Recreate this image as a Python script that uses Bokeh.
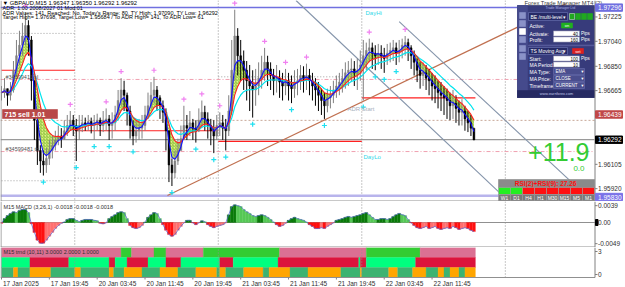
import numpy as np
from bokeh.plotting import figure
from bokeh.layouts import column
from bokeh.models import Range1d
from bokeh.core.properties import value
from bokeh.embed import file_html
from bokeh.resources import INLINE

FONT = "Liberation Sans"

# ---------------- data ----------------
bar_step = 2  # one stored candle = two M15 bars
close = [
    1.9665, 1.9668, 1.9663, 1.9667, 1.9682, 1.9693, 1.9701, 1.9708, 1.9716, 1.9705,
    1.9674, 1.9644, 1.9621, 1.9613, 1.9610, 1.9615, 1.9621, 1.9625, 1.9629, 1.9632,
    1.9630, 1.9636, 1.9640, 1.9644, 1.9640, 1.9636, 1.9640, 1.9642, 1.9641, 1.9643,
    1.9640, 1.9642, 1.9644, 1.9640, 1.9644, 1.9645, 1.9640, 1.9642, 1.9648, 1.9659,
    1.9667, 1.9663, 1.9651, 1.9640, 1.9632, 1.9636, 1.9638, 1.9640, 1.9648, 1.9655,
    1.9663, 1.9667, 1.9661, 1.9655, 1.9650, 1.9636, 1.9610, 1.9604, 1.9613, 1.9621,
    1.9630, 1.9640, 1.9638, 1.9642, 1.9638, 1.9636, 1.9644, 1.9650, 1.9645, 1.9640,
    1.9636, 1.9632, 1.9640, 1.9642, 1.9638, 1.9636, 1.9651, 1.9682, 1.9708, 1.9693,
    1.9689, 1.9682, 1.9674, 1.9670, 1.9667, 1.9670, 1.9676, 1.9682, 1.9688, 1.9683,
    1.9678, 1.9674, 1.9676, 1.9673, 1.9670, 1.9674, 1.9670, 1.9668, 1.9673, 1.9674,
    1.9678, 1.9676, 1.9678, 1.9674, 1.9670, 1.9667, 1.9663, 1.9659, 1.9655, 1.9661,
    1.9663, 1.9667, 1.9670, 1.9673, 1.9676, 1.9680, 1.9682, 1.9683, 1.9680, 1.9682,
    1.9686, 1.9693, 1.9697, 1.9699, 1.9695, 1.9693, 1.9695, 1.9693, 1.9691, 1.9695,
    1.9697, 1.9699, 1.9695, 1.9697, 1.9701, 1.9703, 1.9699, 1.9693, 1.9688, 1.9682,
    1.9678, 1.9680, 1.9676, 1.9674, 1.9670, 1.9668, 1.9665, 1.9663, 1.9661, 1.9659,
    1.9655, 1.9657, 1.9653, 1.9650, 1.9651, 1.9645, 1.9642, 1.9638, 1.9629,
]
high = [
    1.9670, 1.9676, 1.9668, 1.9673, 1.9689, 1.9705, 1.9712, 1.9718, 1.9726, 1.9720,
    1.9708, 1.9674, 1.9648, 1.9625, 1.9621, 1.9623, 1.9629, 1.9632, 1.9636, 1.9640,
    1.9638, 1.9644, 1.9648, 1.9651, 1.9648, 1.9645, 1.9648, 1.9648, 1.9646, 1.9648,
    1.9646, 1.9648, 1.9649, 1.9646, 1.9651, 1.9653, 1.9648, 1.9650, 1.9655, 1.9667,
    1.9676, 1.9674, 1.9665, 1.9655, 1.9644, 1.9645, 1.9645, 1.9648, 1.9655, 1.9665,
    1.9673, 1.9677, 1.9670, 1.9663, 1.9659, 1.9653, 1.9636, 1.9615, 1.9621, 1.9630,
    1.9640, 1.9655, 1.9648, 1.9651, 1.9645, 1.9644, 1.9653, 1.9659, 1.9655, 1.9650,
    1.9645, 1.9644, 1.9648, 1.9650, 1.9648, 1.9645, 1.9663, 1.9705, 1.9728, 1.9714,
    1.9705, 1.9697, 1.9689, 1.9686, 1.9682, 1.9683, 1.9688, 1.9693, 1.9699, 1.9693,
    1.9688, 1.9683, 1.9686, 1.9682, 1.9680, 1.9683, 1.9680, 1.9678, 1.9682, 1.9683,
    1.9686, 1.9685, 1.9687, 1.9683, 1.9680, 1.9676, 1.9673, 1.9668, 1.9665, 1.9668,
    1.9670, 1.9674, 1.9678, 1.9680, 1.9683, 1.9688, 1.9689, 1.9691, 1.9689, 1.9691,
    1.9697, 1.9705, 1.9703, 1.9706, 1.9703, 1.9701, 1.9702, 1.9701, 1.9699, 1.9702,
    1.9703, 1.9705, 1.9703, 1.9705, 1.9706, 1.9708, 1.9706, 1.9701, 1.9697, 1.9691,
    1.9688, 1.9688, 1.9686, 1.9683, 1.9680, 1.9678, 1.9674, 1.9673, 1.9670, 1.9668,
    1.9665, 1.9667, 1.9663, 1.9659, 1.9660, 1.9655, 1.9651, 1.9648, 1.9635,
]
low = [
    1.9659, 1.9661, 1.9655, 1.9659, 1.9665, 1.9678, 1.9686, 1.9693, 1.9701, 1.9693,
    1.9659, 1.9629, 1.9610, 1.9604, 1.9602, 1.9604, 1.9610, 1.9615, 1.9621, 1.9625,
    1.9623, 1.9629, 1.9632, 1.9636, 1.9632, 1.9613, 1.9629, 1.9635, 1.9636, 1.9636,
    1.9634, 1.9629, 1.9636, 1.9632, 1.9635, 1.9636, 1.9629, 1.9630, 1.9636, 1.9644,
    1.9655, 1.9651, 1.9640, 1.9630, 1.9625, 1.9627, 1.9629, 1.9630, 1.9636, 1.9645,
    1.9653, 1.9657, 1.9651, 1.9645, 1.9642, 1.9621, 1.9597, 1.9594, 1.9600, 1.9610,
    1.9621, 1.9629, 1.9629, 1.9632, 1.9629, 1.9627, 1.9635, 1.9638, 1.9636, 1.9630,
    1.9625, 1.9619, 1.9629, 1.9632, 1.9629, 1.9621, 1.9632, 1.9648, 1.9674, 1.9678,
    1.9674, 1.9667, 1.9659, 1.9651, 1.9646, 1.9655, 1.9663, 1.9668, 1.9674, 1.9670,
    1.9667, 1.9663, 1.9665, 1.9661, 1.9659, 1.9663, 1.9659, 1.9657, 1.9661, 1.9663,
    1.9667, 1.9665, 1.9667, 1.9663, 1.9659, 1.9655, 1.9651, 1.9648, 1.9645, 1.9650,
    1.9653, 1.9657, 1.9661, 1.9663, 1.9665, 1.9668, 1.9670, 1.9673, 1.9670, 1.9667,
    1.9674, 1.9659, 1.9682, 1.9688, 1.9683, 1.9682, 1.9686, 1.9683, 1.9680, 1.9686,
    1.9688, 1.9689, 1.9686, 1.9688, 1.9691, 1.9693, 1.9689, 1.9683, 1.9678, 1.9673,
    1.9668, 1.9670, 1.9667, 1.9663, 1.9659, 1.9657, 1.9653, 1.9651, 1.9648, 1.9645,
    1.9644, 1.9645, 1.9642, 1.9640, 1.9640, 1.9636, 1.9635, 1.9632, 1.9629,
]
macd_hist = [
    -0.0002, 0.0009, 0.0016, 0.0021, 0.0025, 0.0023, 0.0028, 0.0030, 0.0030, 0.0023,
    -0.0003, -0.0023, -0.0041, -0.0048, -0.0048, -0.0041, -0.0032, -0.0023, -0.0014, -0.0007,
    -0.0002, 0.0001, 0.0007, 0.0009, 0.0009, 0.0005, 0.0002, 0.0005, 0.0007, 0.0007,
    0.0007, 0.0005, 0.0004, -0.0002, -0.0003, -0.0001, 0.0009, 0.0014, 0.0018, 0.0023,
    0.0025, 0.0023, 0.0009, -0.0007, -0.0012, -0.0014, -0.0012, -0.0007, 0.0001, 0.0012,
    0.0018, 0.0023, 0.0021, 0.0009, -0.0005, -0.0018, -0.0028, -0.0032, -0.0028, -0.0018,
    -0.0009, -0.0001, 0.0005, 0.0005, -0.0001, -0.0005, -0.0001, 0.0004, 0.0002, -0.0005,
    -0.0009, -0.0012, -0.0009, -0.0007, -0.0005, -0.0001, 0.0018, 0.0037, 0.0041, 0.0039,
    0.0037, 0.0030, 0.0025, 0.0021, 0.0016, 0.0014, 0.0016, 0.0018, 0.0016, 0.0012,
    0.0007, 0.0001, -0.0005, -0.0009, -0.0007, -0.0002, 0.0005, 0.0009, 0.0012, 0.0009,
    0.0007, 0.0005, 0.0001, -0.0005, -0.0009, -0.0014, -0.0014, -0.0012, -0.0014, -0.0009,
    -0.0005, -0.0001, 0.0005, 0.0007, 0.0009, 0.0012, 0.0014, 0.0012, 0.0014, 0.0016,
    0.0018, 0.0021, 0.0023, 0.0018, 0.0012, 0.0007, 0.0007, 0.0009, 0.0009, 0.0007,
    0.0009, 0.0014, 0.0018, 0.0021, 0.0018, 0.0016, 0.0007, -0.0001, -0.0007, -0.0012,
    -0.0014, -0.0012, -0.0009, -0.0014, -0.0012, -0.0009, -0.0014, -0.0016, -0.0014, -0.0012,
    -0.0014, -0.0009, -0.0012, -0.0016, -0.0014, -0.0012, -0.0014, -0.0018, -0.0021,
]

# trend indicator rows: bar boundaries and state of each block
trend_row1_edges = [0, 80, 87, 102, 110, 135, 186, 244, 280, 317]
trend_row1_state = ["dn", "up", "dn", "up", "dn", "up", "dn", "up", "dn"]
trend_row2_edges = [0, 19, 45, 72, 76, 84, 98, 110, 120, 146, 155, 185, 239, 240, 244, 277, 317]
trend_row2_state = ["up", "dn"] * 8
trend_row3_edges = [0, 8, 11, 19, 33, 49, 53, 72, 75, 82, 94, 106, 118, 130, 144, 146, 150, 162,
                    175, 179, 193, 205, 227, 240, 241, 259, 265, 275, 284, 292, 296, 300, 306, 310, 317]
trend_row3_state = ["up", "dn"] * 17

time_ticks = [0, 32, 64, 96, 128, 160, 192, 224, 256, 288]
time_labels = ["17 Jan 2025", "17 Jan 19:45", "20 Jan 03:45", "20 Jan 11:45", "20 Jan 19:45",
               "21 Jan 03:45", "21 Jan 11:45", "21 Jan 19:45", "22 Jan 03:45", "22 Jan 11:45"]
day_breaks = [49, 145, 241, 337]
price_ticks = [1.97225, 1.97040, 1.96850, 1.96665, 1.96105, 1.95920]
macd_ticks = [0.0039, 0.0, -0.0049]
macd_tick_labels = ["0.0039", "0.00", "-0.0049"]
trend_ticks = [2.6, 0.3]
trend_tick_labels = ["3", "0"]

adr_high = 1.97296
adr_low_line = 1.95866
adr_low_text = "1.95830"
order_open = 1.96439
order_sl = 1.96750
order_tp = 1.96202
bid = 1.96292
day_open_lines = [(0, 49, 1.9682), (49, 145, 1.9636), (145, 241, 1.9628), (241, 317, 1.9661)]
day_range_lines = [(0, 49, 1.9710), (0, 49, 1.9598), (49, 145, 1.9600), (145, 241, 1.9677)]
trend_line = [(111, 1.95868), (378, 1.97327)]
channel_a = [(197, 1.9735), (334, 1.9588)]
channel_b = [(266, 1.9719), (386, 1.9592)]
tf_names = ["W1", "D1", "H4", "H1", "M30", "M15", "M5", "M1"]
tf_state = ["up", "up", "dn", "dn", "dn", "dn", "dn", "dn"]
rsi_value = 27.26
profit_pips = "+11.9"

# ---------------- layout helpers (pixel -> data for decorations) ----------------
def X(px):
    return (px - 1.0) / 1.495

def Y(py):
    return 1.9735 - 0.000076 * py

MACD_PER_PX = 0.0002316
def MY(py):  # MACD panel, py in page pixels
    return (222 - py) * MACD_PER_PX

def TY(py):  # trend panel, py in page pixels
    return (277 - py) / 10.0

n = len(close)
bars = [bar_step * i for i in range(n)]
opens = [close[0]] + close[:-1]

def ema(v, span):
    a = 2.0 / (span + 1)
    out = [v[0]]
    for x in v[1:]:
        out.append(out[-1] + a * (x - out[-1]))
    return out

fast = ema(close, 3)
slow = ema(close, 8)
slower = ema(close, 14)

xr = Range1d(X(0), X(625))
common = dict(output_backend="svg", toolbar_location=None, frame_width=625,
              min_border_left=0, min_border_right=0, min_border_top=0, min_border_bottom=0,
              x_axis_location=None, y_axis_location=None, x_range=xr)

def style(fig):
    fig.outline_line_color = None
    fig.grid.visible = False
    fig.background_fill_color = "white"
    fig.border_fill_color = "white"

def txt(fig, x, y, s, size="6px", color="#202020", align="left", font=FONT, style_="normal", baseline="middle"):
    xs = x if isinstance(x, list) else [x]
    ys = y if isinstance(y, list) else [y]
    ss = s if isinstance(s, list) else [s]
    fig.text(x=xs, y=ys, text=ss, text_font=value(font), text_font_size=size, text_color=color,
             text_align=align, text_baseline=baseline, text_font_style=style_)

def hline(fig, x0, x1, yv, color, width=1, dash="solid"):
    fig.segment(x0=[x0], x1=[x1], y0=[yv], y1=[yv], line_color=color, line_width=width, line_dash=dash)

def vline(fig, xv, y0, y1, color, width=1, dash="solid"):
    fig.segment(x0=[xv], x1=[xv], y0=[y0], y1=[y1], line_color=color, line_width=width, line_dash=dash)

def right_axis(fig, ticks, labels, ytop, ybot):
    vline(fig, X(594.5), ytop, ybot, "#808080")
    fig.segment(x0=[X(594.5)] * len(ticks), x1=[X(597)] * len(ticks), y0=ticks, y1=ticks, line_color="#808080")
    txt(fig, [X(597.5)] * len(ticks), ticks, labels, size="6.5px", color="#303030")

# ---------------- main price panel ----------------
p = figure(frame_height=201, y_range=Range1d(Y(201), Y(0)), **common)
style(p)

def box(fig, x0, x1, y0, y1, fill, line=None, lw=0.6, ymap=Y):
    fig.quad(left=[X(x0)], right=[X(x1)], top=[ymap(y0)], bottom=[ymap(y1)], fill_color=fill,
             line_color=line if line else fill, line_width=lw)

for d in day_breaks:
    vline(p, d, Y(0), Y(201), "#909090", dash="1 2")

# horizontal levels
hline(p, X(0), X(594), adr_high, "#7070e0", 1.5)
hline(p, X(0), X(594), adr_low_line, "#b8b4ec", 2.5)
hline(p, X(0), X(594), order_sl, "#f0a0b0", 1, "4 2 1 2")
hline(p, X(0), X(594), order_tp, "#f0a0b0", 1, "4 2 1 2")
hline(p, X(0), X(594), order_open, "#c8a898", 1, "2 2")
hline(p, X(0), X(594), bid, "#808080", 1)
for a, b, lv in day_range_lines:
    hline(p, a, b, lv, "#a0a0a0", 1, "1 2")
for a, b, lv in day_open_lines:
    hline(p, a, b, lv, "#ff2020", 1.2)

# drawn lines
p.line([q[0] for q in trend_line], [q[1] for q in trend_line], line_color="#c07050", line_width=1.2)
p.line([q[0] for q in channel_a], [q[1] for q in channel_a], line_color="#8494aa", line_width=1.1)
p.line([q[0] for q in channel_b], [q[1] for q in channel_b], line_color="#8494aa", line_width=1.1)

# ribbon and moving averages
p.varea(x=bars, y1=fast, y2=slow, fill_color="#dcef7a", fill_alpha=0.9,
        hatch_pattern="right_diagonal_line", hatch_color="#7ab828", hatch_scale=3, hatch_weight=0.8)

col = ["#808080" if c >= o else "#000000" for c, o in zip(close, opens)]
p.segment(x0=bars, x1=bars, y0=low, y1=high, line_color=col, line_width=1)
p.vbar(x=bars, top=[max(o, c) for o, c in zip(opens, close)], bottom=[min(o, c) for o, c in zip(opens, close)],
       width=1.2, fill_color=col, line_color=col, line_width=0.5)

p.line(bars, slower, line_color="#00e5ee", line_width=1.2)
p.line(bars, slow, line_color="#ff2020", line_width=1.1)
p.line(bars, fast, line_color="#1010ff", line_width=1.1)

fu_x, fu_y, fd_x, fd_y = [], [], [], []
for i in range(2, n - 2):
    if high[i] > max(high[i - 2], high[i - 1], high[i + 1], high[i + 2]):
        fu_x.append(bars[i]); fu_y.append(high[i] + 0.0005)
    if low[i] < min(low[i - 2], low[i - 1], low[i + 1], low[i + 2]):
        fd_x.append(bars[i]); fd_y.append(low[i] - 0.0005)
p.scatter(fu_x, fu_y, marker="cross", size=5, line_color="#f080f0", line_width=1.2)
p.scatter(fd_x, fd_y, marker="cross", size=5, line_color="#20e0f0", line_width=1.2)

# header texts
txt(p, X(2), Y(2.5), "\u25bc GBPAUD,M15  1.96347 1.96350 1.96292 1.96292", size="5.8px", color="#000000")
txt(p, X(2), Y(7), "ADR: 1.00 2008/2027 01 Mod:01", size="5.5px", color="#000000")
txt(p, X(2), Y(12), "ADR Values: 141, Reached: No, Today's Range: 80, TY High: 1.97090, TY Low: 1.96292",
    size="5.5px", color="#000000")
txt(p, X(2), Y(16.5), "Target High= 1.97698, Target Low= 1.95684 / To ADR High= 141, To ADR Low= 61",
    size="5.5px", color="#000000")

# order labels
box(p, 2, 57, 109, 118, "#b84848")
txt(p, X(4), Y(113.5), "715 sell 1.01", size="7px", color="#ffffff", style_="bold")
txt(p, X(5), Y(76), "#34599411 sl", size="5.5px", color="#505050")
txt(p, X(5), Y(148), "#34599481 tp", size="5.5px", color="#505050")
txt(p, X(365), Y(12), "DayHi", size="6px", color="#30d8e8")
txt(p, X(363), Y(156), "DayLo", size="6px", color="#30d8e8")
txt(p, X(347), Y(108), "ADR Start", size="6px", color="#a8b0bc")

# profit
txt(p, X(589), Y(151), profit_pips, size="25px", color="#33cc33", align="right")
txt(p, X(584), Y(168), "0.0", size="8px", color="#33cc33", align="right")

# RSI / timeframe box
box(p, 498, 594, 179, 187, "#8a8a8a")
txt(p, X(546), Y(183), "RSI(2)+RSI(9):  %.2f" % rsi_value, size="6.5px", color="#ff1010", align="center", style_="bold")
cw = (594 - 498) / len(tf_names)
for k, (nm, st) in enumerate(zip(tf_names, tf_state)):
    x0 = 498 + k * cw
    box(p, x0, x0 + cw, 187, 194, "#22ee22" if st == "up" else "#ff1010", line="#9a9a9a", lw=0.6)
    box(p, x0, x0 + cw, 194, 200.5, "#7a7a7a", line="#9a9a9a", lw=0.6)
    txt(p, X(x0 + cw / 2), Y(197.3), nm, size="5px", color="#ffffff", align="center")

# trade manager panel
txt(p, X(524), Y(2.5), "Forex Trade Manager MT4 (2)", size="5.8px", color="#404040")
box(p, 517, 594, 5, 97, "#373b7b", line="#20245a")
box(p, 517, 527, 5, 97, "#454a8c")
for iy in [15, 23, 31, 39, 48, 56]:
    box(p, 519, 525, iy - 3, iy + 3, "#ffffff" if iy == 31 else "#8a92c8")
txt(p, X(545), Y(7), "Trade Manager Ltd", size="3.5px", color="#b0b4e0")
box(p, 528, 567, 12, 20, "#262a66", line="#7078b8")
txt(p, X(530), Y(16), "BE /multi-level", size="5px", color="#ffffff")
txt(p, X(565), Y(16), "\u25be", size="5px", color="#ffffff", align="right", font="DejaVu Sans")
for k in range(4):
    box(p, 569 + k * 6, 574 + k * 6, 13, 19, "#20a820", line="#c0e0c0" if k == 0 else "#20a820")
panel_rows = [("Active:", 25), ("Activate:", 33), ("Profit:", 39), ("Start:", 58), ("MA Period:", 64),
              ("MA Type:", 71), ("MA Price:", 78), ("Timeframe:", 85)]
for s, yy in panel_rows:
    txt(p, X(529), Y(yy), s, size="5px", color="#ffffff")
box(p, 561, 572, 22.5, 27.5, "#20b020")
txt(p, X(566.5), Y(25), "on", size="4px", color="#ffffff", align="center")
for s, yy, pips in [("40", 33, True), ("160", 39, True), ("100", 58, True), ("10", 64, False)]:
    box(p, 553, 579, yy - 2.6, yy + 2.6, "#ffffff", line="#9090b0")
    txt(p, X(577.5), Y(yy), s, size="4.5px", color="#000000", align="right")
    if pips:
        txt(p, X(580.5), Y(yy), "Pips", size="4.5px", color="#ffffff")
box(p, 528, 594, 44.5, 45.3, "#5a5e9e")
box(p, 528, 567, 47, 54, "#262a66", line="#7078b8")
txt(p, X(530), Y(50.5), "TS Moving Avg", size="5px", color="#ffffff")
txt(p, X(565), Y(50.5), "\u25be", size="5px", color="#ffffff", align="right", font="DejaVu Sans")
box(p, 572, 583, 48, 53, "#dd2020")
txt(p, X(577.5), Y(50.5), "set", size="4px", color="#ffffff", align="center")
for s, yy in [("EMA", 71), ("CLOSE", 78), ("CURRENT", 85)]:
    box(p, 553, 584, yy - 3, yy + 3, "#4a4e8e", line="#6a70b0")
    txt(p, X(555), Y(yy), s, size="4.5px", color="#ffffff")
    txt(p, X(583), Y(yy), "\u25be", size="4.5px", color="#ffffff", align="right", font="DejaVu Sans")
box(p, 517, 594, 90, 97, "#262a62")
txt(p, X(556), Y(93.5), "www.earnforex.com", size="3.8px", color="#c0c4e8", align="center")

# borders + right price axis with highlighted labels
vline(p, X(0.5), Y(0), Y(201), "#909090")
hline(p, X(0), X(594.5), Y(200.5), "#909090")
right_axis(p, price_ticks, ["%.5f" % t for t in price_ticks], Y(0), Y(201))

def hl_label(fig, yv, s, bg):
    fig.quad(left=[X(595)], right=[X(622)], top=[yv + 0.00028], bottom=[yv - 0.00028],
             fill_color=bg, line_color=bg)
    txt(fig, X(597.5), yv, s, size="6.5px", color="#ffffff")

hl_label(p, adr_high, "1.97296", "#7070e0")
hl_label(p, Y(114), "1.96439", "#c04848")
hl_label(p, bid, "1.96292", "#000000")
hl_label(p, Y(196.5), adr_low_text, "#7a72e8")

# ---------------- MACD panel (page y 201..247) ----------------
p2 = figure(frame_height=46, y_range=Range1d(MY(247), MY(201)), **common)
style(p2)
for d in day_breaks:
    vline(p2, d, MY(201), MY(246), "#909090", dash="1 2")
hline(p2, X(0), X(594.5), 0.0, "#909090")
mcol = []
for i, v in enumerate(macd_hist):
    prev = macd_hist[i - 1] if i > 0 else v
    if v >= 0:
        mcol.append("#0a7a0a" if v >= prev else "#56c856")
    else:
        mcol.append("#ff1010" if v <= prev else "#ff7070")
p2.vbar(x=bars, top=macd_hist, bottom=0, width=2.0, fill_color=mcol, line_color=mcol, line_width=0.3)
p2.line(bars, macd_hist, line_color="#4a5ad0", line_width=0.7)
txt(p2, X(3), MY(206), "M15 MACD (3,26,1) -0.0018 -0.0018 -0.0018", size="5.5px", color="#303030")
vline(p2, X(0.5), MY(201), MY(246.5), "#909090")
hline(p2, X(0), X(594.5), MY(246.5), "#909090")
right_axis(p2, macd_ticks, macd_tick_labels, MY(201), MY(247))
p2.quad(left=[X(595)], right=[X(597.5)], top=[MY(219)], bottom=[MY(225)], fill_color="#000000", line_color="#000000")

# ---------------- trend panel (page y 247..287) ----------------
p3 = figure(frame_height=40, y_range=Range1d(TY(287), TY(247)), **common)
style(p3)
rows = [(trend_row1_edges, trend_row1_state, 2, {"up": "#33cc33", "dn": "#db7093"}),
        (trend_row2_edges, trend_row2_state, 1, {"up": "#00ff7f", "dn": "#dc143c"}),
        (trend_row3_edges, trend_row3_state, 0, {"up": "#3cb371", "dn": "#ffa500"})]
for edges, states, base, cmap in rows:
    cs = [cmap[s] for s in states]
    p3.quad(left=edges[:-1], right=edges[1:], bottom=[base] * len(states), top=[base + 1] * len(states),
            fill_color=cs, line_color=cs, line_width=0.3)
for d in day_breaks:
    vline(p3, d, 0, 3, "#909090", dash="1 2")
txt(p3, X(3), 2.55, "M15 trnd (10,11) 3.0000 2.0000 1.0000", size="5.5px", color="#303030")
vline(p3, X(0.5), 3, 0, "#909090")
hline(p3, X(0), X(594.5), 0, "#909090")
right_axis(p3, trend_ticks, trend_tick_labels, 3, 0)
# time axis
p3.segment(x0=time_ticks, x1=time_ticks, y0=[0] * len(time_ticks), y1=[TY(279)] * len(time_ticks),
           line_color="#808080")
txt(p3, [t + 1.0 for t in time_ticks], [TY(282.5)] * len(time_ticks), time_labels, size="6.5px", color="#303030")

layout = column(p, p2, p3, spacing=0)
open("out.html", "w").write(file_html(layout, INLINE))
